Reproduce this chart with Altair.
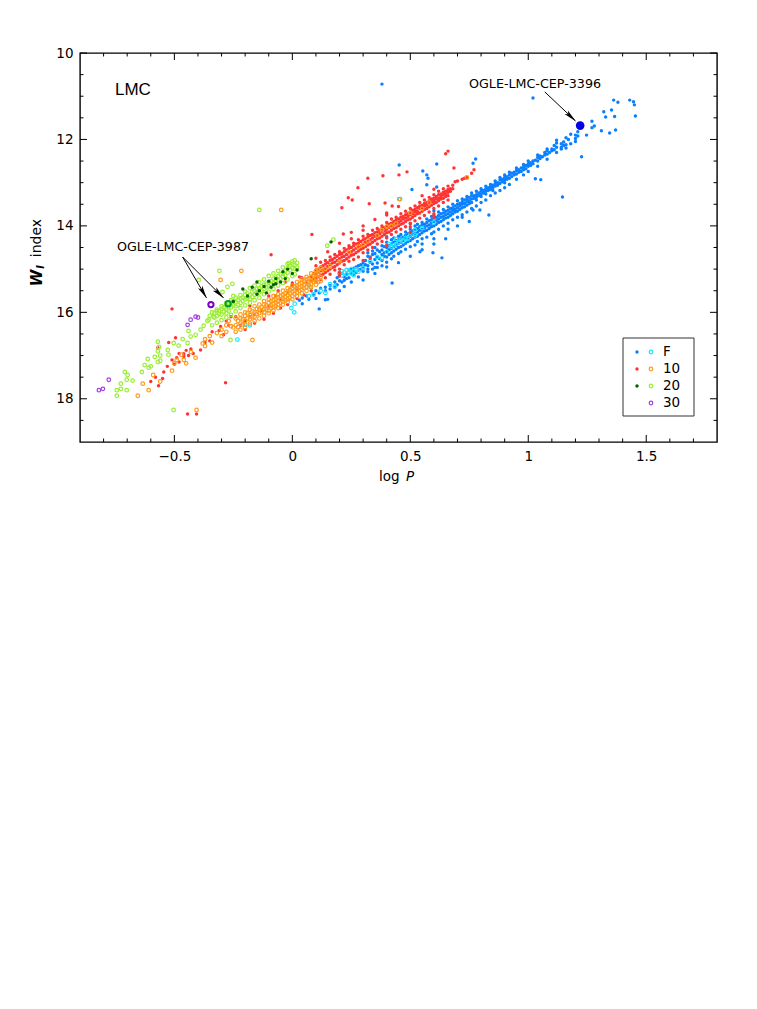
import altair as alt
import pandas as pd

# Each row: logP followed by the W_I values read at that period
F_FILLED = [
(0.03,15.72),(0.042,15.67,15.8),(0.06,15.62),(0.07,15.7),(0.09,15.6),(0.10,15.5,15.68),(0.114,15.92,15.55),(0.12,15.44),(0.14,15.71,15.42,15.5),
(0.16,15.38,15.46),(0.18,15.3,15.42),(0.19,15.2,15.36),(0.20,15.27,15.16),(0.21,15.3,15.1),(0.22,15.18,15.26),(0.23,15.12,15.22),(0.24,15.02,15.2),(0.25,15.1,15.0),(0.26,14.98,15.05,15.12),(0.27,14.95,15.08),(0.28,14.92,15.02,15.18),(0.29,14.9,15.0),(0.30,14.86,14.95,15.05),
(0.31,14.80,14.9),(0.32,14.92,14.70,15.0),(0.33,14.84,14.72),(0.34,14.88,14.66),(0.35,14.78,14.64,14.96),(0.36,14.86,14.72),(0.37,14.60,14.76),(0.38,14.66,14.56,14.80),(0.39,14.62,14.70,14.48),(0.40,14.50,14.60,14.72),
(0.41,14.46,14.55,14.66),(0.42,14.52,14.42,14.62),(0.43,14.38,14.48,14.58),(0.44,14.34,14.44,14.54),(0.45,14.32,14.40,14.50),(0.46,14.28,14.38,14.48),(0.47,14.26,14.34,14.44),(0.48,14.22,14.30,14.40),(0.49,14.18,14.28,14.36),(0.50,14.16,14.24,14.34),
(0.51,14.12,14.20,14.30),(0.52,14.08,14.18,14.26),(0.53,14.06,14.14,14.24),(0.54,14.02,14.10,14.20),(0.55,13.98,14.08,14.16),(0.56,13.96,14.04,14.12),(0.57,13.92,14.00,14.10),(0.58,13.88,13.98,14.06),(0.59,13.86,13.94,14.02),(0.60,13.82,13.90,14.00),
(0.61,13.80,13.88,13.96),(0.62,13.76,13.84,13.92),(0.63,13.72,13.80,13.90),(0.64,13.70,13.78,13.86),(0.65,13.66,13.74,13.82),(0.66,13.64,13.72,13.80),(0.67,13.60,13.68,13.76),(0.68,13.58,13.64,13.72),(0.69,13.54,13.62,13.68),(0.70,13.50,13.58,13.66),
(0.71,13.48,13.54,13.62),(0.72,13.44,13.50,13.58),(0.73,13.40,13.48,13.56),(0.74,13.38,13.44,13.52),(0.75,13.34,13.42,13.48),(0.76,13.30,13.38,13.46),(0.77,13.30,13.36),(0.78,13.28,13.34,13.40),(0.79,13.24,13.30),(0.80,13.20,13.26,13.32),
(0.81,13.18,13.24),(0.82,13.14,13.20,13.26),(0.83,13.12,13.18),(0.84,13.10,13.16),(0.85,13.06,13.12,13.18),(0.86,13.02,13.08),(0.87,13.00,13.06),(0.88,12.94,13.02),(0.89,12.92,12.98),(0.90,12.88,12.94,13.00),
(0.91,12.86,12.92),(0.92,12.82,12.90),(0.93,12.78,12.86),(0.94,12.76,12.82),(0.95,12.72,12.80),(0.96,12.70,12.76),(0.97,12.66,12.74),(0.98,12.64,12.70),(0.99,12.60,12.68),(1.00,12.56,12.62),
(1.01,12.54,12.60),(1.02,12.50,12.56),(1.03,12.48),(1.04,12.42,12.50),(1.05,12.38,12.44),(1.06,12.40),(1.07,12.30,12.36),(1.08,12.26,12.34),(1.09,12.30),(1.10,12.22,12.26),(1.11,12.14,12.24),(1.12,12.18,12.08),(1.14,12.10,12.18,12.22),(1.15,12.06,12.14),(1.16,11.96,12.12,12.20),(1.17,12.0),(1.18,11.88,12.10),(1.20,11.9,11.98,12.05),(1.21,11.82,11.92),
(1.27,11.58,11.73),(1.247,11.9),(1.28,11.69),(1.31,11.80),(1.345,11.85),(1.37,11.78),(1.32,11.36),(1.353,11.32),(1.366,11.47),(1.328,11.48),(1.362,11.09),(1.38,11.14),(1.43,11.09),(1.446,11.13),(1.45,11.2),(1.454,11.46),(1.226,12.4),(1.145,13.33),(1.053,12.93),(1.03,12.91),(1.02,11.04),(0.38,10.72),
(0.766,12.55,13.63),(0.777,12.45),(0.612,12.57),(0.553,12.73),(0.57,12.82,13.05),(0.575,12.9),(0.507,13.16),(0.453,12.59),(0.612,13.1),(0.833,13.75),(0.795,13.63),(0.634,14.74),(0.596,14.62),(0.541,14.6),(0.423,15.32),(0.72,13.8),(0.66,14.08),(0.6,14.3),(0.55,14.42),
]
F_FRINGE = [
(0.32,14.62,15.06),(0.34,14.58,15.0),(0.36,14.56,14.96),(0.38,14.46,14.92),(0.40,14.38,14.84),(0.42,14.32,14.76),(0.43,14.28,14.7),(0.45,14.24,14.64),(0.46,14.2,14.6),(0.48,14.14,14.54),(0.5,14.08,14.48),(0.52,14.0,14.44),(0.53,13.96,14.36),(0.55,13.92,14.3),(0.57,13.84,14.26),(0.59,13.78,14.18),(0.6,13.76,14.14),(0.62,13.68,14.08),(0.64,13.62,14.0),(0.66,13.56,13.94),(0.68,13.5,13.86),(0.7,13.42,13.8),(0.72,13.38,13.74),(0.74,13.32,13.68),(0.76,13.24,13.6),(0.78,13.2,13.54),(0.8,13.14,13.46),(0.82,13.08,13.4),(0.84,13.04,13.3),(0.86,12.96,13.24),(0.88,12.88,13.18),(0.9,12.82,13.12),(0.92,12.76,13.04),(0.95,12.66,12.92),(0.98,12.58,12.82),(1.0,12.5,12.74),(1.04,12.36,12.62),(1.08,12.22,12.46),(1.12,12.02,12.3),
(0.35,15.1,14.5),(0.4,14.95,14.25),(0.45,14.85),(0.5,14.7,13.95),(0.55,14.55),(0.6,14.42,13.65),(0.65,14.3),(0.7,14.0),(0.75,13.9),(0.25,15.3),(0.3,15.25),(0.15,15.7),(0.2,15.5),(0.22,15.4),
]
F_OPEN = [
(0.2,15.1),(0.21,15.05,15.15),(0.22,15.08),(0.23,15.02,15.12),(0.24,15.06),(0.25,15.0,15.1),(0.26,15.04,15.14),(0.27,15.0),(0.28,15.06),(0.12,15.5),(0.14,15.55),(0.16,15.35),(0.18,15.4),(0.07,15.62),(0.09,15.58),
(0.36,14.72),(0.38,14.75),(0.40,14.6),(0.41,14.42),(0.42,14.48),(0.43,14.45),(0.44,14.42,14.3),(0.45,14.38),(0.46,14.32),(0.47,14.36),(0.48,14.28),(0.49,14.3),(0.5,14.2),(0.52,14.1,14.22),(0.55,14.05),(0.6,13.92),(0.457,13.38),(0.33,14.82),(0.3,14.98),
(-0.233,16.63),(-0.2,16.29),(-0.004,15.9),(0.008,16.0),(0.01,15.8),(0.076,15.41),(-0.18,16.3),
]
O1_FILLED = [
(0.0,15.38),(0.02,15.48),(0.04,15.2),(0.06,15.3),(0.08,15.18,15.28),(0.09,15.1,15.22),
(0.10,15.02,15.12,15.22),(0.11,15.0,15.08,15.18),(0.12,14.95,15.04,15.14),(0.13,14.92,15.02,15.12),(0.14,14.88,14.98,15.08),(0.15,14.85,14.94,15.04),(0.16,14.8,14.9,15.0),(0.17,14.78,14.86,14.96),(0.18,14.74,14.84,14.94),(0.19,14.7,14.8,14.9),
(0.20,14.66,14.76,14.86),(0.21,14.64,14.72,14.82),(0.22,14.6,14.7,14.8),(0.23,14.56,14.66,14.76),(0.24,14.52,14.62,14.72),(0.25,14.5,14.6,14.68),(0.26,14.46,14.56,14.66),(0.27,14.42,14.52,14.62),(0.28,14.4,14.48,14.58),(0.29,14.36,14.46,14.54),
(0.30,14.32,14.42,14.52),(0.31,14.3,14.38,14.48),(0.32,14.26,14.36,14.44),(0.33,14.22,14.32,14.42),(0.34,14.2,14.28,14.38),(0.35,14.16,14.24,14.34),(0.36,14.14,14.22,14.3),(0.37,14.1,14.18,14.28),(0.38,14.06,14.14,14.24),(0.39,14.04,14.12,14.2),
(0.40,14.0,14.08,14.16),(0.41,13.96,14.04,14.14),(0.42,13.94,14.02,14.1),(0.43,13.9,13.98,14.06),(0.44,13.86,13.94,14.04),(0.45,13.84,13.92,14.0),(0.46,13.8,13.88,13.96),(0.47,13.78,13.84,13.94),(0.48,13.74,13.82,13.9),(0.49,13.72,13.78,13.86),
(0.50,13.68,13.74,13.84),(0.51,13.64,13.72,13.8),(0.52,13.62,13.68,13.76),(0.53,13.58,13.66,13.72),(0.54,13.54,13.6,13.7),(0.55,13.52,13.58,13.66),(0.56,13.48,13.54,13.62),(0.57,13.46,13.52,13.6),(0.58,13.42,13.48,13.56),(0.59,13.38,13.44,13.52),
(0.60,13.36,13.42,13.48),(0.61,13.32,13.38,13.46),(0.62,13.28,13.36,13.42),(0.63,13.26,13.32,13.38),(0.64,13.22,13.28,13.36),(0.65,13.2,13.26,13.32),(0.66,13.16,13.22,13.3),(0.67,13.14,13.2),(0.68,13.06,13.14),(0.69,12.98),(0.70,12.96),(0.72,12.92),(0.73,12.9),(0.74,12.88),
(0.66,12.27),(0.65,12.33),(0.77,12.7),(0.76,12.78),(0.685,12.66),(0.486,12.75),(0.452,12.82),(0.384,12.84),(0.32,12.9),(0.278,13.12),(0.237,13.35),(0.254,13.4),(0.21,13.58),(0.326,13.49),(0.393,13.47),(0.423,13.54),(0.083,14.2),(0.216,14.19),(0.15,14.6),(0.25,14.15),(0.3,14.1),(0.4,13.75),(0.35,13.85),
(-0.09,14.67),(-0.51,15.92),(-0.283,17.63),(-0.444,18.35),(-0.406,18.35),(0.5,14.02),(0.33,14.75),(0.2,15.08),(0.6,13.72),
(-0.6,17.6),(-0.567,17.7),(-0.58,17.5),(-0.55,17.53),(-0.545,17.38),(-0.53,17.25),(-0.5,17.2),(-0.495,16.59),(-0.524,16.7),(-0.57,16.82),(-0.51,17.1),(-0.49,17.05),(-0.48,16.95,17.15),(-0.46,16.96,17.02),(-0.45,16.88),(-0.44,17.0),(-0.43,16.85),(-0.42,16.95),(-0.389,16.87),(-0.37,16.7),(-0.35,16.66),(-0.34,16.45),(-0.304,16.33),(-0.292,16.52),(-0.31,16.42),(-0.28,16.2),(-0.26,16.1),(-0.27,16.3),(-0.24,16.1),(-0.22,16.3),(-0.2,16.2),(-0.18,16.1),(-0.16,16.05),(-0.13,15.95),(-0.1,15.85),(-0.07,15.62),(-0.05,15.7),(-0.03,15.3),(-0.02,15.55),
]
O1_FRINGE = [
(0.1,14.92,15.3),(0.12,14.84,15.24),(0.14,14.8,15.2),(0.16,14.72,15.12),(0.18,14.66,15.02),(0.2,14.6,15.0),(0.22,14.52,14.9),(0.24,14.46,14.82),(0.26,14.4,14.78),(0.28,14.32,14.72),(0.3,14.24,14.62),(0.32,14.2,14.56),(0.34,14.1,14.5),(0.36,14.06,14.42),(0.38,14.0,14.36),(0.4,13.92,14.28),(0.42,13.84,14.2),(0.44,13.8,14.14),(0.46,13.72,14.08),(0.48,13.66,14.02),(0.5,13.6,13.94),(0.52,13.54,13.88),(0.54,13.46,13.82),(0.56,13.4,13.76),(0.58,13.34,13.68),(0.6,13.28,13.6),(0.62,13.2,13.54),(0.64,13.14,13.46),(0.66,13.08,13.4),
(-0.2,16.4),(-0.16,16.25),(-0.12,16.16),(-0.08,16.02),(-0.05,15.9),(-0.02,15.82),(0.02,15.68),(0.05,15.6),(0.08,15.5),(-0.18,15.85),(-0.1,15.62),(-0.06,15.5),(0.0,15.32),(0.03,15.18),
(0.1,14.75),(0.2,14.4,15.15),(0.3,14.0,14.8),(0.4,13.7,14.45),(0.45,13.55),(0.55,13.3),(0.6,13.15,13.8),(0.25,14.3),(0.5,14.15),
]
O1_OPEN = [
(-0.25,16.35),(-0.24,16.3),(-0.23,16.2,16.34),(-0.22,16.14,16.26),(-0.21,16.16,16.28),(-0.20,16.08,16.2),(-0.19,16.02,16.14),(-0.18,16.06,16.16),(-0.17,15.98,16.1),(-0.16,16.0,16.1),(-0.15,15.92,16.04),(-0.14,15.94,16.02),(-0.13,15.88,15.98),(-0.12,15.82,15.92,16.0),(-0.11,15.84,15.94),(-0.10,15.78,15.86,15.96),(-0.09,15.74,15.84,15.9),(-0.08,15.72,15.8,15.88),(-0.07,15.7,15.78,15.86),(-0.06,15.66,15.74,15.82),(-0.05,15.62,15.7,15.78),(-0.04,15.6,15.68,15.76),(-0.03,15.56,15.64,15.72),(-0.02,15.52,15.6,15.7),(-0.01,15.48,15.56,15.66),
(0.0,15.44,15.52,15.62),(0.01,15.4,15.5,15.58),(0.02,15.38,15.46,15.54),(0.03,15.34,15.42,15.5),(0.04,15.32,15.4,15.48),(0.05,15.28,15.36,15.44),(0.06,15.24,15.32,15.42),(0.07,15.22,15.3,15.38),(0.08,15.18,15.26,15.34),(0.09,15.14,15.24,15.3),(0.10,15.12,15.2,15.28),(0.11,15.14),(0.12,15.06,15.18),(0.14,15.0),(0.16,14.94),(0.2,14.82),(0.24,14.6),(0.28,14.48),(0.3,14.44),(0.32,14.34),(0.36,14.22),(0.38,14.1),(0.4,14.02),(0.42,14.0),(0.44,13.95),(0.5,13.7),(0.55,13.6),(0.58,13.46),(0.74,12.88),(0.453,13.38),
(-0.047,13.63),(-0.216,15.04),(-0.304,15.25),(-0.406,18.26),(-0.655,17.93),(-0.609,17.8),(-0.634,17.65),(-0.169,16.64),
(-0.59,17.45),(-0.56,17.6),(-0.51,17.35),(-0.5,17.18),(-0.49,17.1),(-0.47,16.98),(-0.46,17.1),(-0.45,17.18),(-0.43,16.92),(-0.41,17.05),(-0.38,16.72),(-0.37,16.62,16.78),(-0.35,16.55),(-0.34,16.7),(-0.32,16.48),(-0.3,16.4,16.55),(-0.28,16.3,16.45),(-0.27,16.2),(-0.26,16.32),
(-0.24,16.14,16.45),(-0.22,16.05,16.4),(-0.2,16.0,16.34),(-0.18,15.94,16.26),(-0.16,15.86,16.2),(-0.14,15.82,16.14),(-0.12,15.74,16.08),(-0.1,15.7,16.02),(-0.08,15.62,15.96),(-0.06,15.58,15.9),(-0.04,15.5,15.82),(-0.02,15.44,15.76),(0.0,15.38,15.7),(0.02,15.3,15.62),(0.04,15.24,15.56),(0.06,15.18,15.5),(0.08,15.1,15.42),(0.1,15.04,15.36),(0.11,15.02,15.3),(0.12,14.98,15.28),
]
O2_FILLED = [
(-0.21,15.46),(-0.19,15.62),(-0.17,15.42),(-0.15,15.3,15.58),(-0.14,15.5),(-0.12,15.4),(-0.11,15.55),(-0.1,15.28),(-0.09,15.42),(-0.08,15.36),(-0.07,15.34,15.22),(-0.05,15.3),(-0.04,15.06),(-0.03,15.22),(-0.02,15.0),(0.0,15.1),(0.02,15.02),(0.164,14.37),(0.08,14.76),(-0.25,15.75),
]
O2_OPEN = [
(-0.744,17.93,17.8),(-0.727,17.77,17.65),(-0.702,17.8,17.56),(-0.677,17.58),(-0.698,17.45),(-0.71,17.38),(-0.638,17.38),(-0.626,17.22),(-0.613,17.08),(-0.609,17.28),(-0.6,17.25),(-0.583,17.03),(-0.57,16.68,16.9,17.15),(-0.565,16.8),(-0.56,17.0,17.12),(-0.528,16.87),(-0.525,16.98),(-0.503,16.71),(-0.482,16.77),(-0.465,16.62),(-0.444,16.71),(-0.44,16.43),(-0.431,16.56),(-0.41,16.52),(-0.389,16.4),(-0.376,16.31),(-0.355,16.17),(-0.334,16.1),
(-0.14,13.63),(-0.309,15.04),(-0.397,15.25),(-0.503,18.26),(-0.262,16.64),(-0.254,15.34),(-0.275,15.41),(-0.296,15.53),(-0.25,15.62),(0.174,14.32),(0.148,14.46),
(-0.36,16.2),(-0.35,16.08),(-0.34,16.0),(-0.33,16.12,16.02),(-0.32,15.98,16.08),(-0.31,15.96,16.04),(-0.3,16.05,15.92),(-0.29,15.88,15.98),(-0.28,15.84,15.94,16.02),(-0.27,15.86,15.96),(-0.26,15.78,15.88),(-0.25,15.74,15.84),(-0.24,15.76,15.86),(-0.23,15.72,15.82),(-0.22,15.68,15.78),(-0.21,15.66,15.74),(-0.2,15.6,15.7),(-0.19,15.56,15.68),(-0.18,15.6,15.7),(-0.17,15.52,15.64),(-0.16,15.5,15.6),(-0.15,15.46,15.56),(-0.14,15.44,15.54),(-0.13,15.4,15.5),(-0.12,15.36,15.46),(-0.11,15.34,15.42),(-0.1,15.3,15.4),(-0.09,15.28,15.36),(-0.08,15.22,15.32),(-0.07,15.2,15.28),(-0.06,15.16,15.26),(-0.05,15.12,15.22),(-0.04,15.1,15.18),(-0.03,15.04,15.14),(-0.02,14.98,15.08),(-0.01,14.92,15.02),(0.0,14.88,14.98),(0.01,14.9,15.0),(0.02,14.86,14.96),(-0.015,14.86),
(-0.34,16.3),(-0.32,15.94,16.24),(-0.3,15.86,16.18),(-0.28,15.78,16.12),(-0.26,15.72,16.06),(-0.24,15.66,15.98),(-0.22,15.6,15.9),(-0.2,15.52,15.84),(-0.18,15.44,15.78),(-0.16,15.38,15.72),(-0.14,15.3,15.66),(-0.12,15.24,15.58),(-0.1,15.16,15.52),(-0.08,15.1,15.46),(-0.06,15.04,15.38),(-0.04,14.96,15.32),(-0.02,14.88,15.24),(0.0,14.82,15.16),(0.01,14.8,15.12),
]
O3_OPEN = [(-0.82,17.8),(-0.803,17.77),(-0.778,17.56),(-0.444,16.29),(-0.431,16.17),(-0.41,16.1),(-0.40,16.12)]

STAR_F = [(1.22,11.68)]
STAR_2O = [(-0.272,15.8)]
STAR_3O = [(-0.345,15.82)]

# (start logP, start W, end logP, end W, head logP, head W, head angle)
ARROWS = [
    (-0.465,14.72,-0.364,15.665,-0.377,15.545,150),
    (-0.465,14.72,-0.292,15.665,-0.31,15.567,135),
    (1.07,10.90,1.20,11.57,1.181,11.475,133),
]

X_MAJOR = [-0.5,0,0.5,1,1.5]
X_MINOR = [-0.8,-0.7,-0.6,-0.4,-0.3,-0.2,-0.1,0.1,0.2,0.3,0.4,0.6,0.7,0.8,0.9,1.1,1.2,1.3,1.4,1.6,1.7]
Y_MAJOR = [10,12,14,16,18]
Y_MINOR = [10.5,11,11.5,12.5,13,13.5,14.5,15,15.5,16.5,17,17.5,18.5]

W, H = 637, 389
SANS = "Liberation Sans"
WIDE = "DejaVu Sans"

def frame(rows):
    return pd.DataFrame([{"logP": r[0], "wi": v} for r in rows for v in r[1:]])

xs = alt.Scale(domain=[-0.9, 1.8], nice=False, zero=False)
ys = alt.Scale(domain=[10, 19], reverse=True, nice=False, zero=False)
X = alt.X("logP:Q", scale=xs, title=None,
          axis=alt.Axis(values=X_MAJOR, format=".1~f", tickSize=0, domain=False, grid=False, labelPadding=7,
                        labelFont=WIDE, labelFontSize=13.5, labelColor="black"))
Y = alt.Y("wi:Q", scale=ys, title=None,
          axis=alt.Axis(values=Y_MAJOR, tickSize=0, domain=False, grid=False, labelPadding=7,
                        labelFont=WIDE, labelFontSize=13.5, labelColor="black"))

DOT = 12
RING = 13

def dots(rows, color):
    return alt.Chart(frame(rows)).mark_point(filled=True, size=DOT, color=color, opacity=1).encode(x=X, y=Y)

def rings(rows, color):
    return alt.Chart(frame(rows)).mark_point(filled=False, size=RING, color=color, strokeWidth=1.2, opacity=1).encode(x=X, y=Y)

layers = [
    dots(F_FILLED + F_FRINGE, "#0a80ff"), rings(F_OPEN, "#19e6ff"),
    dots(O1_FILLED + O1_FRINGE, "#ff3333"), rings(O1_OPEN, "#ff9a1a"),
    rings(O2_OPEN, "#99ee33"), dots(O2_FILLED, "#006400"),
    rings(O3_OPEN, "#a040e0"),
]

# Big highlighted stars
layers.append(alt.Chart(frame(STAR_F)).mark_point(filled=True, size=75, color="#0000e6", opacity=1).encode(x=X, y=Y))
layers.append(alt.Chart(frame(STAR_2O)).mark_point(filled=False, size=28, color="#00a030", strokeWidth=2, opacity=1).encode(x=X, y=Y))
layers.append(alt.Chart(frame(STAR_3O)).mark_point(filled=False, size=28, color="#8000c0", strokeWidth=2, opacity=1).encode(x=X, y=Y))

# Arrows
adf = pd.DataFrame(ARROWS, columns=["x0", "y0", "x1", "y1", "hx", "hy", "ang"])
layers.append(alt.Chart(adf).mark_rule(color="black", strokeWidth=1).encode(
    x=alt.X("x0:Q", scale=xs), y=alt.Y("y0:Q", scale=ys), x2="x1:Q", y2="y1:Q"))
HEAD = "M0 -1 L0.38 1 L0 0.55 L-0.38 1 Z"
for row in ARROWS:
    layers.append(alt.Chart(pd.DataFrame({"logP": [row[4]], "wi": [row[5]]})).mark_point(
        shape=HEAD, filled=True, size=170, color="black", opacity=1, angle=row[6]).encode(x=X, y=Y))

# Inward ticks on all four sides
def tick_x(vals, L):
    d = pd.DataFrame({"logP": vals})
    b = alt.Chart(d).mark_rule(color="black", strokeWidth=1).encode(
        x=alt.X("logP:Q", scale=xs), y=alt.value(H), y2=alt.value(H - L))
    t = alt.Chart(d).mark_rule(color="black", strokeWidth=1).encode(
        x=alt.X("logP:Q", scale=xs), y=alt.value(0), y2=alt.value(L))
    return [b, t]

def tick_y(vals, L):
    d = pd.DataFrame({"wi": vals})
    l = alt.Chart(d).mark_rule(color="black", strokeWidth=1).encode(
        y=alt.Y("wi:Q", scale=ys), x=alt.value(0), x2=alt.value(L))
    r = alt.Chart(d).mark_rule(color="black", strokeWidth=1).encode(
        y=alt.Y("wi:Q", scale=ys), x=alt.value(W), x2=alt.value(W - L))
    return [l, r]

layers += tick_x(X_MAJOR, 7) + tick_x(X_MINOR, 3.5) + tick_y(Y_MAJOR, 7) + tick_y(Y_MINOR, 3.5)

def text(s, px, py, size=13.5, font=WIDE, style="normal", weight="normal", align="left", angle=0):
    return alt.Chart(pd.DataFrame({"t": [s]})).mark_text(
        font=font, fontSize=size, fontStyle=style, fontWeight=weight, align=align, baseline="middle",
        color="black", angle=angle).encode(x=alt.value(px), y=alt.value(py), text="t:N")

layers += [
    text("LMC", 35, 37, size=17, font=SANS),
    text("OGLE-LMC-CEP-3396", 389, 31, size=12.7),
    text("OGLE-LMC-CEP-3987", 37, 194, size=12.7),
    text("log", 299, 424),
    text("P", 326, 424, style="italic"),
    text("W", -43, 225, size=15, style="italic", weight="bold", align="center", angle=270),
    text("I", -39, 214, size=10, style="italic", weight="bold", align="center", angle=270),
    text("index", -43, 185, size=14, align="center", angle=270),
]

# Hand-built legend
LEG_ROWS = [("F", "#0a80ff", "#19e6ff"), ("10", "#ff3333", "#ff9a1a"), ("20", "#006400", "#99ee33"), ("30", None, "#a040e0")]
layers.append(alt.Chart(pd.DataFrame({"a": [0]})).mark_rect(fill="white", stroke="#333333", strokeWidth=1).encode(
    x=alt.value(543), x2=alt.value(614), y=alt.value(285), y2=alt.value(363)))
for i, (lab, fc, oc) in enumerate(LEG_ROWS):
    py = 299 + i * 17
    if fc:
        layers.append(alt.Chart(pd.DataFrame({"a": [0]})).mark_point(filled=True, size=DOT, color=fc, opacity=1).encode(
            x=alt.value(557), y=alt.value(py)))
    layers.append(alt.Chart(pd.DataFrame({"a": [0]})).mark_point(filled=False, size=RING, color=oc, strokeWidth=1.2, opacity=1).encode(
        x=alt.value(571), y=alt.value(py)))
    layers.append(text(lab, 583, py, size=13.5))

chart = alt.layer(*layers).properties(
    width=W, height=H, padding={"left": 22, "top": 38, "right": 5, "bottom": 5}
).configure_view(stroke="black", strokeWidth=1.4).resolve_scale(x="shared", y="shared")

chart.save("out.html", embed_options={"renderer": "svg", "actions": False})
